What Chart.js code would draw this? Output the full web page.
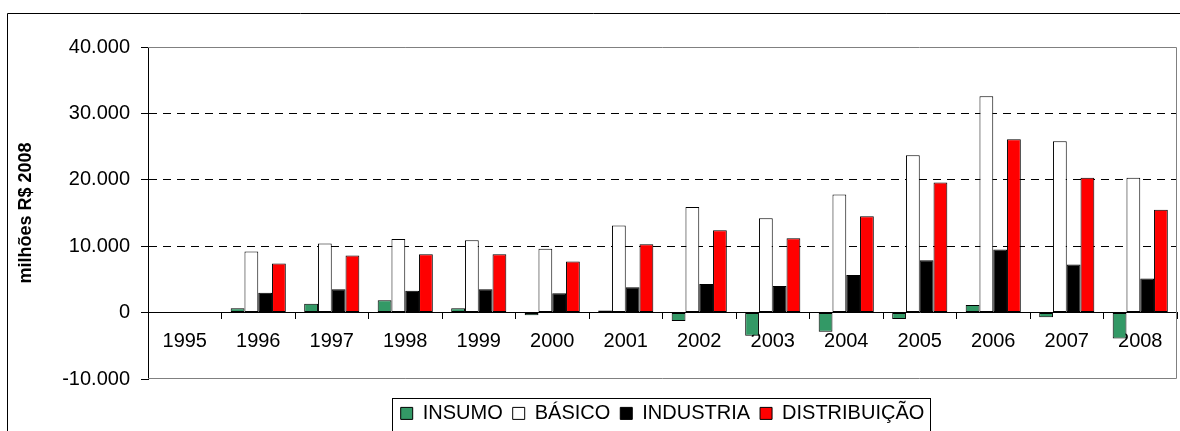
<!DOCTYPE html>
<html>
<head>
<meta charset="utf-8">
<script src="https://cdn.jsdelivr.net/npm/chart.js@4"></script>
<style>
  html, body { margin: 0; padding: 0; background: #fff; overflow: hidden; }
  #wrap { width: 1180px; height: 431px; }
</style>
</head>
<body>
<div id="wrap"><canvas id="setorChart" width="1180" height="431"></canvas></div>
<script>
const anos = ["1995", "1996", "1997", "1998", "1999", "2000", "2001", "2002", "2003", "2004", "2005", "2006", "2007", "2008"];
const insumo = [null, 650, 1350, 1850, 650, -400, 300, -1250, -3500, -2900, -950, 1150, -700, -3900];
const basico = [null, 9200, 10400, 11100, 10900, 9600, 13100, 15900, 14200, 17800, 23700, 32600, 25800, 20300];
const industria = [null, 3000, 3500, 3300, 3500, 2900, 3800, 4300, 4000, 5650, 7900, 9500, 7250, 5150];
const distribuicao = [null, 7400, 8600, 8800, 8800, 7700, 10300, 12400, 11200, 14500, 19600, 26100, 20300, 15500];
const serieNomes = ["INSUMO", "BÁSICO", "INDUSTRIA", "DISTRIBUIÇÃO"];
const serieCores = ["#339966", "#ffffff", "#000000", "#ff0000"];

const fonte = "'Liberation Sans', Arial, sans-serif";

// formata 40000 -> 40.000
function milhar(v) {
  const s = String(Math.abs(v)).replace(/\B(?=(\d{3})+(?!\d))/g, ".");
  return (v < 0 ? "-" : "") + s;
}

// molduras: borda externa, borda da area do grafico e caixa da legenda
const molduras = {
  id: "molduras",
  beforeLayout(chart) {
    const lg = chart.legend;
    if (lg && !lg._patched) {
      const fit = lg.fit;
      lg.fit = function () { fit.call(this); this.height = 52; };
      lg._patched = true;
    }
  },
  beforeDatasetsDraw(chart) {
    const { ctx, chartArea: a } = chart;
    ctx.save();
    ctx.strokeStyle = "#808080";
    ctx.lineWidth = 1;
    ctx.beginPath();
    ctx.moveTo(a.left, a.top + 0.5);
    ctx.lineTo(a.right - 0.5, a.top + 0.5);
    ctx.lineTo(a.right - 0.5, a.bottom - 0.5);
    ctx.lineTo(a.left, a.bottom - 0.5);
    ctx.stroke();
    ctx.restore();
  },
  afterDraw(chart) {
    const ctx = chart.ctx;
    ctx.save();
    ctx.strokeStyle = "#000";
    ctx.lineWidth = 1;
    ctx.beginPath();
    ctx.moveTo(7.5, 440);
    ctx.lineTo(7.5, 13.5);
    ctx.lineTo(1180, 13.5);
    ctx.stroke();
    const hb = chart.legend.legendHitBoxes;
    if (hb && hb.length) {
      const l = Math.min(...hb.map(h => h.left)) - 9;
      const r = Math.max(...hb.map(h => h.left + h.width)) + 5;
      const t = Math.min(...hb.map(h => h.top)) - 5;
      ctx.strokeRect(Math.round(l) + 0.5, Math.round(t) + 0.5, Math.round(r - l), 60);
    }
    ctx.restore();
  }
};

new Chart("setorChart", {
  type: "bar",
  data: {
    labels: anos,
    datasets: [insumo, basico, industria, distribuicao].map((d, i) => ({
      label: serieNomes[i],
      data: d,
      backgroundColor: serieCores[i],
      borderColor: "#000",
      borderWidth: 1,
      borderSkipped: false,
      categoryPercentage: 0.75,
      barPercentage: 1
    }))
  },
  options: {
    responsive: false,
    animation: false,
    layout: { padding: { left: 8, right: 3, top: 47, bottom: 0 } },
    plugins: {
      tooltip: { enabled: false },
      legend: {
        position: "bottom",
        fullSize: false,
        title: { display: true, text: "", padding: 0, font: { size: 12 } },
        labels: {
          boxWidth: 12,
          boxHeight: 12,
          padding: 10,
          color: "#000",
          font: { family: fonte, size: 20 }
        }
      }
    },
    scales: {
      x: {
        position: { y: 0 },
        grid: { offset: true, drawOnChartArea: false, tickLength: 6, color: "#000", tickColor: "#000" },
        border: { color: "#000", width: 1 },
        ticks: { color: "#000", autoSkip: false, maxRotation: 0, padding: 11, font: { family: fonte, size: 20 } }
      },
      y: {
        min: -10000,
        max: 40000,
        afterFit(s) { s.width = 140; },
        title: {
          display: true,
          text: "milhões R$ 2008",
          color: "#000",
          padding: { top: 7, bottom: 0 },
          font: { family: fonte, size: 18, weight: "bold" }
        },
        grid: {
          color: c => [10000, 20000, 30000].includes(c.tick && c.tick.value) ? "#000" : "rgba(0,0,0,0)",
          tickColor: "#000",
          tickLength: 7,
          tickBorderDash: []
        },
        border: { display: true, color: "#000", width: 1, dash: [8, 6] },
        ticks: {
          stepSize: 10000,
          padding: 11,
          color: "#000",
          font: { family: fonte, size: 20 },
          callback: v => milhar(v)
        }
      }
    }
  },
  plugins: [molduras]
});
</script>
</body>
</html>
